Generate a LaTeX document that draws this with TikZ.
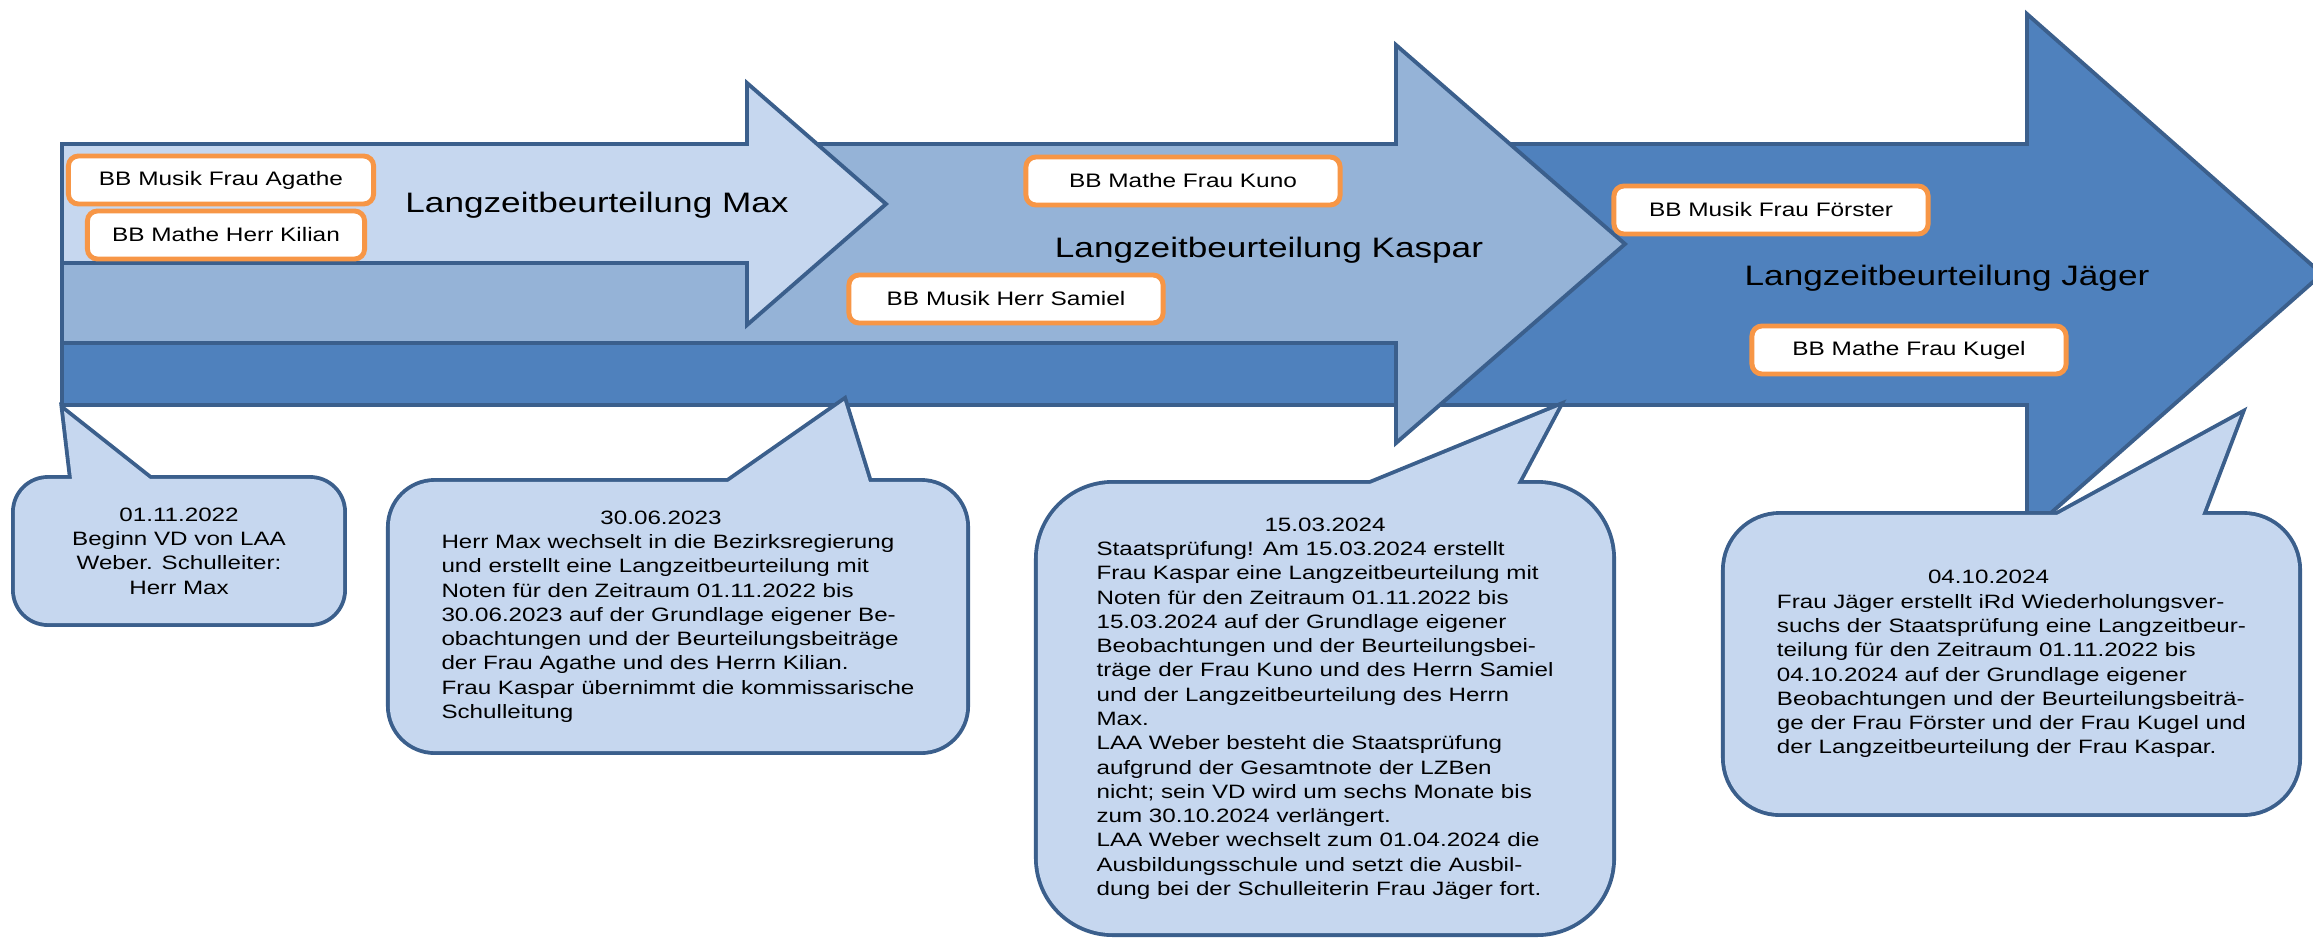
\documentclass[tikz,border=0pt]{standalone}
\usepackage{fontspec}
\setmainfont{Liberation Sans}[FakeStretch=1.25]

\definecolor{hell}{HTML}{C6D7EF}
\definecolor{mittel}{HTML}{95B3D7}
\definecolor{dunkel}{HTML}{4F81BD}
\definecolor{rand}{HTML}{3B5F8C}
\definecolor{bbrand}{HTML}{F79646}

\begin{document}
\begin{tikzpicture}[
            x = 0.01cm,
            y = -0.01cm,
            pfeil/.style = {
                draw = rand,
                fill = #1,
                line width = 1.1pt,
                line join = miter
            },
            titel/.style = {
                font = \fontsize{8}{9.6}\selectfont,
                inner sep = 0pt
            },
            bb/.style = {
                draw = bbrand,
                fill = white,
                line width = 1.4pt,
                rounded corners = 1mm,
                minimum width = #1,
                minimum height = 4.8mm,
                inner sep = 0pt,
                font = \fontsize{5.55}{6.9}\selectfont
            },
            bb/.default = 3.14cm,
            blase/.style = {
                rectangle,
                rounded corners = #1,
                fill = hell,
                preaction = {draw = rand, line width = 2.2pt},
                inner sep = 0pt,
                font = \fontsize{5.5}{6.9}\selectfont
            },
            zeiger/.style = {
                draw = rand,
                line width = 2.2pt,
                line join = miter
            }
            ]
            \useasboundingbox (0,0) rectangle (2313,942);

            % Pfeile, hinten zuerst
            \draw[pfeil=dunkel] (62,144) -- (2027,144) -- (2027,14) -- (2322,274) -- (2027,534) -- (2027,405) -- (62,405) -- cycle;
            \draw[pfeil=mittel] (62,144) -- (1396,144) -- (1396,45) -- (1625,244) -- (1396,443) -- (1396,343) -- (62,343) -- cycle;
            \draw[pfeil=hell] (62,144) -- (747,144) -- (747,83) -- (886,204) -- (747,325) -- (747,263) -- (62,263) -- cycle;

            \node[titel] (lzbmax) at (597,205) {Langzeitbeurteilung Max};
            \node[titel] (lzbkaspar) at (1269,250) {Langzeitbeurteilung Kaspar};
            \node[titel] (lzbjaeger) at (1947,278) {Langzeitbeurteilung Jäger};

            % Beurteilungsbeitraege
            \node[bb=3.05cm] (agathe) at (221,180) {BB Musik Frau Agathe};
            \node[bb=2.77cm] (kilian) at (226,235) {BB Mathe Herr Kilian};
            \node[bb] (kuno) at (1183,181) {BB Mathe Frau Kuno};
            \node[bb] (samiel) at (1006,299) {BB Musik Herr Samiel};
            \node[bb] (foerster) at (1771,210) {BB Musik Frau Förster};
            \node[bb] (kugel) at (1909,350) {BB Mathe Frau Kugel};

            % Sprechblasen
            \coordinate (c1a) at (72,479);
            \coordinate (c1spitze) at (64,411);
            \coordinate (c1b) at (150,479);
            \draw[zeiger] (c1a) -- (c1spitze) -- (c1b);
            \node[blase=0.33cm, minimum width=3.28cm, minimum height=1.44cm, align=center] (c1) at (179,551)
                {01.11.2022\\Beginn VD von LAA\\Weber. Schulleiter:\\Herr Max};
            \fill[hell] (c1a) -- (c1spitze) -- (c1b) -- cycle;

            \coordinate (c2a) at (728,482);
            \coordinate (c2spitze) at (844,401);
            \coordinate (c2b) at (869,482);
            \draw[zeiger] (c2a) -- (c2spitze) -- (c2b);
            \node[blase=0.45cm, minimum width=5.76cm, minimum height=2.69cm] (c2) at (678,616.5) {%
                \begin{tabular}{@{}l@{}}
                \multicolumn{1}{@{}c@{\hspace{0.34cm}}}{30.06.2023}\\
                Herr Max wechselt in die Bezirksregierung\\
                und erstellt eine Langzeitbeurteilung mit\\
                Noten für den Zeitraum 01.11.2022 bis\\
                30.06.2023 auf der Grundlage eigener Be-\\
                obachtungen und der Beurteilungsbeiträge\\
                der Frau Agathe und des Herrn Kilian.\\
                Frau Kaspar übernimmt die kommissarische\\
                Schulleitung
                \end{tabular}};
            \fill[hell] (c2a) -- (c2spitze) -- (c2b) -- cycle;

            \coordinate (c3a) at (1370,484);
            \coordinate (c3spitze) at (1558,407);
            \coordinate (c3b) at (1517,484);
            \draw[zeiger] (c3a) -- (c3spitze) -- (c3b);
            \node[blase=0.75cm, minimum width=5.74cm, minimum height=4.49cm] (c3) at (1325,708.5) {%
                \begin{tabular}{@{}l@{}}
                \multicolumn{1}{@{}c@{}}{15.03.2024}\\
                Staatsprüfung! Am 15.03.2024 erstellt\\
                Frau Kaspar eine Langzeitbeurteilung mit\\
                Noten für den Zeitraum 01.11.2022 bis\\
                15.03.2024 auf der Grundlage eigener\\
                Beobachtungen und der Beurteilungsbei-\\
                träge der Frau Kuno und des Herrn Samiel\\
                und der Langzeitbeurteilung des Herrn\\
                Max.\\
                LAA Weber besteht die Staatsprüfung\\
                aufgrund der Gesamtnote der LZBen\\
                nicht; sein VD wird um sechs Monate bis\\
                zum 30.10.2024 verlängert.\\
                LAA Weber wechselt zum 01.04.2024 die\\
                Ausbildungsschule und setzt die Ausbil-\\
                dung bei der Schulleiterin Frau Jäger fort.
                \end{tabular}};
            \fill[hell] (c3a) -- (c3spitze) -- (c3b) -- cycle;

            \coordinate (c4a) at (2057,515);
            \coordinate (c4spitze) at (2240,415);
            \coordinate (c4b) at (2202,515);
            \draw[zeiger] (c4a) -- (c4spitze) -- (c4b);
            \node[blase=0.55cm, minimum width=5.73cm, minimum height=2.98cm] (c4) at (2011.5,664) {%
                \begin{tabular}{@{}l@{}}
                \multicolumn{1}{@{}c@{\hspace{0.46cm}}}{04.10.2024}\\
                Frau Jäger erstellt iRd Wiederholungsver-\\
                suchs der Staatsprüfung eine Langzeitbeur-\\
                teilung für den Zeitraum 01.11.2022 bis\\
                04.10.2024 auf der Grundlage eigener\\
                Beobachtungen und der Beurteilungsbeiträ-\\
                ge der Frau Förster und der Frau Kugel und\\
                der Langzeitbeurteilung der Frau Kaspar.
                \end{tabular}};
            \fill[hell] (c4a) -- (c4spitze) -- (c4b) -- cycle;
        \end{tikzpicture}
\end{document}
